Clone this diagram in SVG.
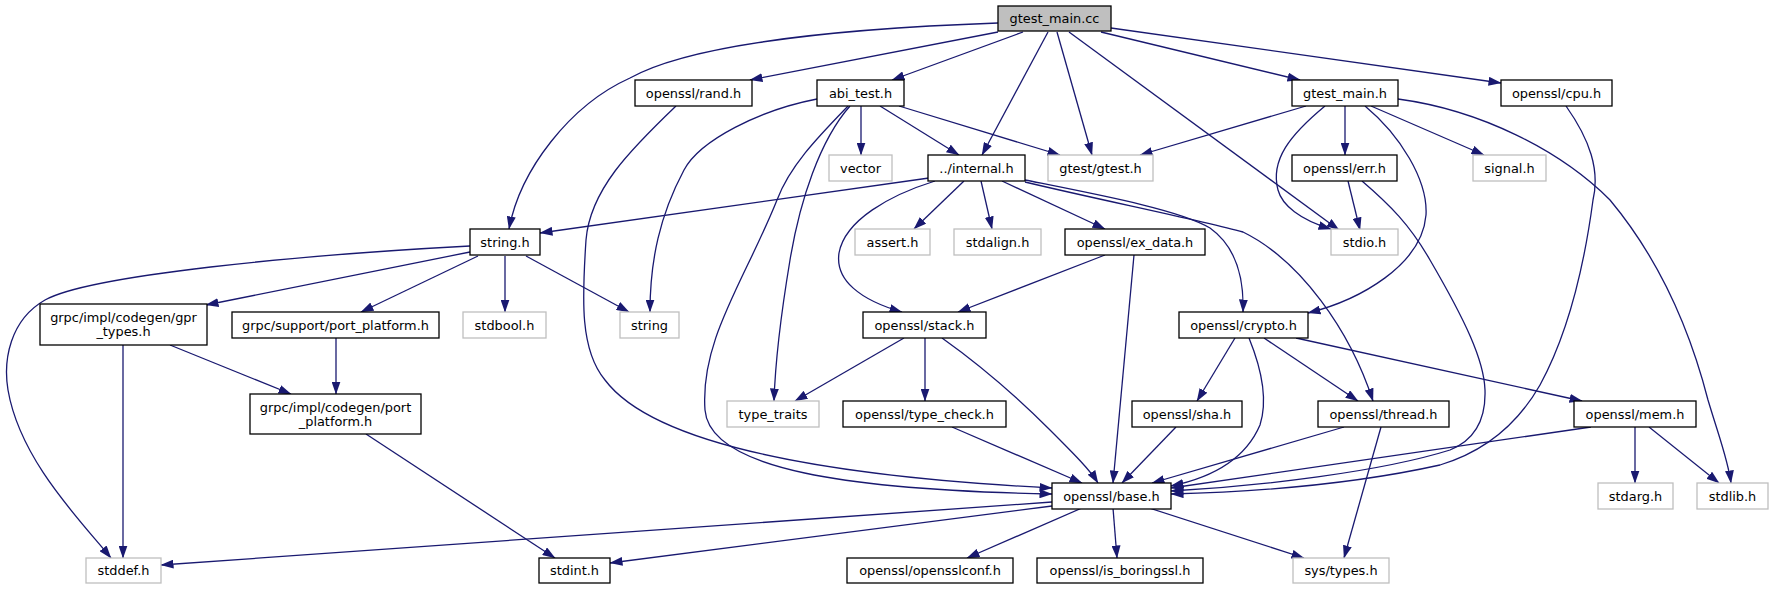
<svg xmlns="http://www.w3.org/2000/svg" width="1774" height="589" viewBox="0 0 1774 589">
<style>
.n rect{fill:#fff;stroke:#000;stroke-width:1.3}
.g rect{fill:#fff;stroke:#bfbfbf;stroke-width:1.3}
.r rect{fill:#bfbfbf;stroke:#000;stroke-width:1.3}
text{font-family:"DejaVu Sans","Liberation Sans",sans-serif;font-size:12.9px;fill:#000;text-anchor:middle}
#edges path{fill:none;stroke:#191970;stroke-width:1.3;marker-end:url(#a)}
</style>
<defs>
<marker id="a" viewBox="0 0 13 9" refX="12.5" refY="4.5" markerWidth="13" markerHeight="9" markerUnits="userSpaceOnUse" orient="auto">
<path d="M0,0 L13,4.5 L0,9 Z" fill="#191970"/>
</marker>
</defs>
<rect width="1774" height="589" fill="#fff"/>
<g id="edges">
<path d="M998,23 C800,30 680,50 630,78 C570,105 520,170 509,229"/>
<path d="M998,32 L750,80"/>
<path d="M1023,32 L892,80"/>
<path d="M1048,32 L982,155"/>
<path d="M1057,32 L1092,155"/>
<path d="M1069,32 L1339,230"/>
<path d="M1101,32 L1300,80"/>
<path d="M1111,28 L1501,83"/>
<path d="M676,106 C630,150 590,190 586,240 C582,300 580,350 605,380 C650,440 800,475 1052,488"/>
<path d="M848,106 C820,135 790,165 777,200 C745,280 700,340 705,410 C710,470 850,490 1052,494"/>
<path d="M850,106 C820,140 800,200 790,260 C780,320 775,370 774,401"/>
<path d="M817,99 C760,110 700,140 684,170 C660,215 650,260 650,312"/>
<path d="M861,106 L861,155"/>
<path d="M880,106 L959,155"/>
<path d="M899,106 L1060,155"/>
<path d="M1306,106 L1140,155"/>
<path d="M1345,106 L1345,155"/>
<path d="M1371,106 L1484,155"/>
<path d="M1325,106 C1290,135 1270,160 1278,190 C1282,205 1300,220 1331,229"/>
<path d="M1365,106 C1400,135 1428,180 1426,215 C1422,265 1360,300 1308,313"/>
<path d="M1398,99 C1480,110 1560,150 1610,200 C1660,260 1690,330 1708,400 C1720,440 1728,460 1731,483"/>
<path d="M1566,106 C1590,140 1600,170 1593,200 C1585,260 1570,330 1540,385 C1520,420 1490,450 1440,465 C1350,485 1250,492 1171,494"/>
<path d="M929,178 L540,233"/>
<path d="M935,181 C890,195 845,220 839,253 C835,280 860,300 902,312"/>
<path d="M964,181 L914,229"/>
<path d="M981,181 L992,229"/>
<path d="M1002,181 L1105,229"/>
<path d="M1025,180 C1100,195 1180,210 1210,228 C1238,248 1244,280 1243,312"/>
<path d="M1025,182 C1100,200 1200,220 1243,232 C1300,260 1350,330 1373,401"/>
<path d="M1348,181 L1360,230"/>
<path d="M1362,181 C1390,205 1410,225 1430,260 C1465,320 1484,360 1485,390 C1486,420 1475,440 1450,450 C1380,472 1260,486 1171,491"/>
<path d="M470,246 C300,255 90,275 45,300 C10,320 3,360 8,390 C20,460 80,520 111,558"/>
<path d="M470,252 L206,305"/>
<path d="M478,256 L361,312"/>
<path d="M505,256 L505,312"/>
<path d="M526,256 L629,312"/>
<path d="M123,345 L123,558"/>
<path d="M170,345 L291,394"/>
<path d="M336,337 L336,394"/>
<path d="M366,434 L555,558"/>
<path d="M1105,255 L958,312"/>
<path d="M1134,255 L1113,483"/>
<path d="M904,338 L795,401"/>
<path d="M925,338 L925,401"/>
<path d="M942,338 C980,365 1020,400 1050,430 C1075,455 1090,470 1098,483"/>
<path d="M952,427 L1082,483"/>
<path d="M1235,338 L1197,401"/>
<path d="M1249,338 C1262,370 1268,400 1260,425 C1245,460 1210,478 1171,486"/>
<path d="M1264,338 L1358,401"/>
<path d="M1296,338 L1582,401"/>
<path d="M1176,427 L1122,483"/>
<path d="M1344,427 L1152,483"/>
<path d="M1381,427 L1344,558"/>
<path d="M1591,427 L1171,488"/>
<path d="M1635,427 L1635,483"/>
<path d="M1649,427 L1719,483"/>
<path d="M1052,502 L161,565"/>
<path d="M1052,506 L610,563"/>
<path d="M1082,508 L967,558"/>
<path d="M1113,508 L1117,558"/>
<path d="M1149,508 L1304,558"/>
</g>
<g id="n0" class="r"><rect x="998" y="6" width="113" height="25"/><text x="1054.5" y="23">gtest_main.cc</text></g>
<g id="n1" class="n"><rect x="635" y="80" width="117" height="26"/><text x="693.5" y="97.5">openssl/rand.h</text></g>
<g id="n2" class="n"><rect x="817" y="80" width="87" height="26"/><text x="860.5" y="97.5">abi_test.h</text></g>
<g id="n3" class="n"><rect x="1292" y="80" width="106" height="26"/><text x="1345" y="97.5">gtest_main.h</text></g>
<g id="n4" class="n"><rect x="1501" y="80" width="111" height="26"/><text x="1556.5" y="97.5">openssl/cpu.h</text></g>
<g id="n5" class="g"><rect x="829" y="155" width="63" height="26"/><text x="860.5" y="172.5">vector</text></g>
<g id="n6" class="n"><rect x="928" y="155" width="97" height="26"/><text x="976.5" y="172.5">../internal.h</text></g>
<g id="n7" class="g"><rect x="1048" y="155" width="105" height="26"/><text x="1100.5" y="172.5">gtest/gtest.h</text></g>
<g id="n8" class="n"><rect x="1292" y="155" width="105" height="26"/><text x="1344.5" y="172.5">openssl/err.h</text></g>
<g id="n9" class="g"><rect x="1473" y="155" width="73" height="26"/><text x="1509.5" y="172.5">signal.h</text></g>
<g id="n10" class="n"><rect x="470" y="229" width="70" height="26"/><text x="505" y="246.5">string.h</text></g>
<g id="n11" class="g"><rect x="855" y="229" width="75" height="26"/><text x="892.5" y="246.5">assert.h</text></g>
<g id="n12" class="g"><rect x="954" y="229" width="87" height="26"/><text x="997.5" y="246.5">stdalign.h</text></g>
<g id="n13" class="n"><rect x="1065" y="229" width="140" height="26"/><text x="1135" y="246.5">openssl/ex_data.h</text></g>
<g id="n14" class="g"><rect x="1331" y="229" width="67" height="26"/><text x="1364.5" y="246.5">stdio.h</text></g>
<g id="n15" class="n"><rect x="40" y="304" width="167" height="41"/><text x="123.5" y="322">grpc/impl/codegen/gpr</text><text x="123.5" y="336">_types.h</text></g>
<g id="n16" class="n"><rect x="232" y="312" width="207" height="26"/><text x="335.5" y="329.5">grpc/support/port_platform.h</text></g>
<g id="n17" class="g"><rect x="463" y="312" width="83" height="26"/><text x="504.5" y="329.5">stdbool.h</text></g>
<g id="n18" class="g"><rect x="620" y="312" width="59" height="26"/><text x="649.5" y="329.5">string</text></g>
<g id="n19" class="n"><rect x="863" y="312" width="123" height="26"/><text x="924.5" y="329.5">openssl/stack.h</text></g>
<g id="n20" class="n"><rect x="1179" y="312" width="129" height="26"/><text x="1243.5" y="329.5">openssl/crypto.h</text></g>
<g id="n21" class="n"><rect x="250" y="394" width="171" height="40"/><text x="335.5" y="411.5">grpc/impl/codegen/port</text><text x="335.5" y="425.5">_platform.h</text></g>
<g id="n22" class="g"><rect x="727" y="401" width="92" height="26"/><text x="773" y="418.5">type_traits</text></g>
<g id="n23" class="n"><rect x="843" y="401" width="163" height="26"/><text x="924.5" y="418.5">openssl/type_check.h</text></g>
<g id="n24" class="n"><rect x="1132" y="401" width="110" height="26"/><text x="1187" y="418.5">openssl/sha.h</text></g>
<g id="n25" class="n"><rect x="1318" y="401" width="131" height="26"/><text x="1383.5" y="418.5">openssl/thread.h</text></g>
<g id="n26" class="n"><rect x="1574" y="401" width="122" height="26"/><text x="1635" y="418.5">openssl/mem.h</text></g>
<g id="n27" class="n"><rect x="1052" y="483" width="119" height="26"/><text x="1111.5" y="500.5">openssl/base.h</text></g>
<g id="n28" class="g"><rect x="1598" y="483" width="75" height="26"/><text x="1635.5" y="500.5">stdarg.h</text></g>
<g id="n29" class="g"><rect x="1697" y="483" width="71" height="26"/><text x="1732.5" y="500.5">stdlib.h</text></g>
<g id="n30" class="g"><rect x="86" y="558" width="75" height="25"/><text x="123.5" y="575">stddef.h</text></g>
<g id="n31" class="n"><rect x="539" y="558" width="71" height="25"/><text x="574.5" y="575">stdint.h</text></g>
<g id="n32" class="n"><rect x="847" y="558" width="166" height="25"/><text x="930" y="575">openssl/opensslconf.h</text></g>
<g id="n33" class="n"><rect x="1037" y="558" width="166" height="25"/><text x="1120" y="575">openssl/is_boringssl.h</text></g>
<g id="n34" class="g"><rect x="1293" y="558" width="96" height="25"/><text x="1341" y="575">sys/types.h</text></g>
</svg>
